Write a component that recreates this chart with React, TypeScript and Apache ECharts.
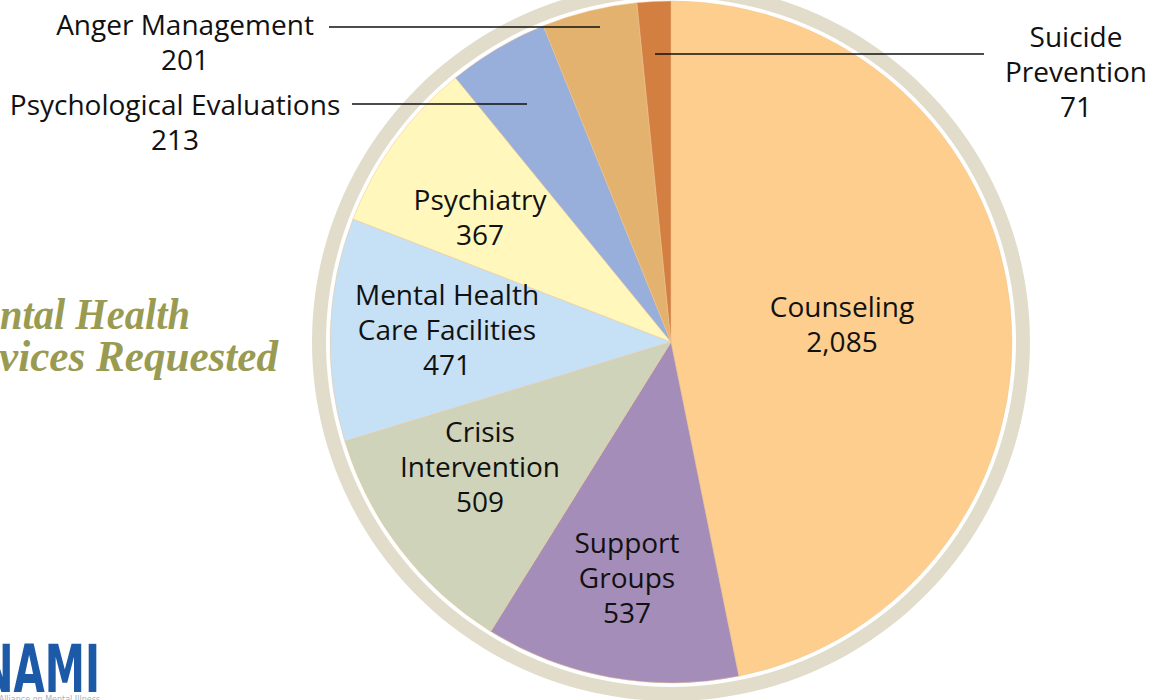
import React, { useEffect, useRef } from "react";
import * as echarts from "echarts";

const categories = [
  "Counseling",
  "Support Groups",
  "Crisis Intervention",
  "Mental Health Care Facilities",
  "Psychiatry",
  "Psychological Evaluations",
  "Anger Management",
  "Suicide Prevention",
];
const displayNames = [
  "Counseling",
  "Support\nGroups",
  "Crisis\nIntervention",
  "Mental Health\nCare Facilities",
  "Psychiatry",
  "Psychological Evaluations",
  "Anger Management",
  "Suicide\nPrevention",
];
const values = [2085, 537, 509, 471, 367, 213, 201, 71];
const colors = [
  "#FECE8E",
  "#A48DB9",
  "#CED3B9",
  "#C6E0F5",
  "#FFF7BC",
  "#98AEDB",
  "#E3B26F",
  "#D47F42",
];
const outsideLabels = [5, 6, 7];

// label layout (centres of label blocks, leader line points)
const labelAnchors: Record<number, [number, number]> = {
  0: [842, 323],
  1: [627, 577],
  2: [480, 466],
  3: [447, 329],
  4: [480, 216],
  5: [175, 121],
  6: [185, 41],
  7: [1076, 71],
};
const leaderLines: Record<number, number[][]> = {
  5: [[527, 104], [440, 104], [352, 104]],
  6: [[600, 27], [460, 27], [329, 27]],
  7: [[655, 54], [820, 54], [984, 54]],
};

const fmt = (v: number) => v.toLocaleString("en-US");

export default function App() {
  const ref = useRef<HTMLDivElement>(null);
  useEffect(() => {
    if (!ref.current) return;
    const chart = echarts.init(ref.current, undefined, { renderer: "svg" });
    const font = "'Open Sans', 'Noto Sans', sans-serif";
    const titleFont = "italic bold 44px 'Liberation Serif', serif";
    chart.setOption({
      animation: false,
      backgroundColor: "#ffffff",
      graphic: [
        {
          type: "text",
          x: 190,
          y: 314,
          scaleX: 0.92,
          style: {
            text: "Mental Health",
            fill: "#9A9B52",
            font: titleFont,
            textAlign: "right",
            textVerticalAlign: "middle",
          },
        },
        {
          type: "text",
          x: 278,
          y: 356,
          scaleX: 0.98,
          style: {
            text: "Services Requested",
            fill: "#9A9B52",
            font: titleFont,
            textAlign: "right",
            textVerticalAlign: "middle",
          },
        },
        {
          type: "text",
          x: 100,
          y: 636,
          scaleX: 0.68,
          style: {
            text: "NAMI",
            fill: "#1C5AA8",
            font: "bold 66px 'DejaVu Sans Condensed', sans-serif",
            textAlign: "right",
            textVerticalAlign: "top",
          },
        },
        {
          type: "text",
          x: 100,
          y: 695,
          style: {
            text: "National Alliance on Mental Illness",
            fill: "#a8b0c0",
            font: "8px 'DejaVu Sans', sans-serif",
            textAlign: "right",
            textVerticalAlign: "top",
          },
        },
      ],
      series: [
        {
          type: "pie",
          silent: true,
          z: 1,
          center: [671, 342],
          radius: [345, 359],
          label: { show: false },
          labelLine: { show: false },
          itemStyle: { color: "#E2DCCB" },
          data: [{ value: 1, name: "ring" }],
        },
        {
          type: "pie",
          silent: true,
          z: 2,
          center: [671, 342],
          radius: [0, 341],
          startAngle: 90,
          clockwise: true,
          itemStyle: { borderColor: "#EEC58E", borderWidth: 0.5 },
          label: { show: false },
          labelLine: { show: false },
          data: categories.map((c, i) => ({
            name: c,
            value: values[i],
            itemStyle: { color: colors[i] },
          })),
        },
        {
          // transparent overlay carrying the labels and leader lines on top
          type: "pie",
          silent: true,
          z: 10,
          center: [671, 342],
          radius: [0, 341],
          startAngle: 90,
          clockwise: true,
          avoidLabelOverlap: false,
          itemStyle: { color: "rgba(0,0,0,0)", borderWidth: 0 },
          label: {
            color: "#111111",
            fontFamily: font,
            fontSize: 28,
            lineHeight: 35,
            align: "center",
            formatter: (p: any) => displayNames[p.dataIndex] + "\n" + fmt(p.value),
          },
          labelLine: { show: false },
          labelLayout: (p: any) => {
            const i = p.dataIndex;
            const a = labelAnchors[i];
            const out: any = {
              x: a[0],
              y: a[1],
              align: "center",
              verticalAlign: "middle",
            };
            if (leaderLines[i]) out.labelLinePoints = leaderLines[i];
            return out;
          },
          data: categories.map((c, i) => ({
            name: c,
            value: values[i],
            label: {
              position: outsideLabels.includes(i) ? "outside" : "inside",
            },
            labelLine: outsideLabels.includes(i)
              ? { show: true, length: 10, length2: 10, lineStyle: { color: "#111111", width: 1.5 } }
              : { show: false },
          })),
        },
      ],
    });
    return () => chart.dispose();
  }, []);
  return (
    <div
      ref={ref}
      style={{ position: "absolute", left: 0, top: 0, width: 1153, height: 700 }}
    />
  );
}
